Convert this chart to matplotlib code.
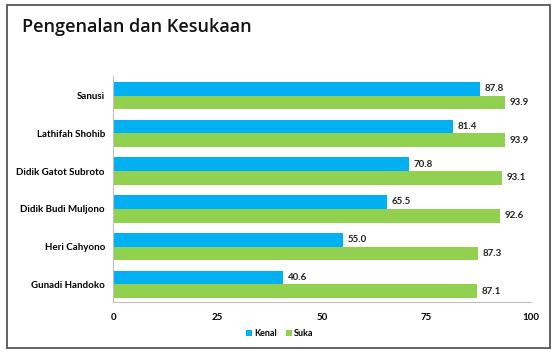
import matplotlib
matplotlib.use("Agg")
import matplotlib.pyplot as plt
from matplotlib.patches import Rectangle
import numpy as np

categories = ["Sanusi", "Lathifah Shohib", "Didik Gatot Subroto", "Didik Budi Muljono", "Heri Cahyono", "Gunadi Handoko"]
kenal = [87.8, 81.4, 70.8, 65.5, 55.0, 40.6]
suka = [93.9, 93.9, 93.1, 92.6, 87.3, 87.1]
xticks = [0, 25, 50, 75, 100]

plt.rcParams['font.family'] = ['Lato', 'DejaVu Sans']

fig = plt.figure(figsize=(5.6, 3.55), dpi=100)
ax = fig.add_axes([113.3/560, 1-302.3/355, (530.5-113.3)/560, (302.3-76)/355])

n = len(categories)
y = np.arange(n)[::-1].astype(float)
h = 0.363
blue = "#00B0F0"
green = "#92D050"
b1 = ax.barh(y + h/2, kenal, height=h, color=blue, label="Kenal")
b2 = ax.barh(y - h/2, suka, height=h, color=green, label="Suka")
for bars, vals in ((b1, kenal), (b2, suka)):
    for bar, v in zip(bars, vals):
        ax.text(v + 1.2, bar.get_y() + bar.get_height()/2, f"{v:.1f}", va="center", ha="left",
                fontsize=7, fontweight="bold", color="#222222")

ax.set_xlim(0, 100)
ax.set_ylim(-0.477, n - 1 + 0.52)
ax.set_xticks(xticks)
ax.set_xticklabels([str(t) for t in xticks], fontsize=7, fontweight="bold")
ax.set_yticks(y)
ax.set_yticklabels(categories, fontsize=7, fontweight="bold")
ax.tick_params(axis='both', length=0, pad=8)
ax.tick_params(axis='y', pad=6)
for s in ("top", "right"):
    ax.spines[s].set_visible(False)
ax.spines["left"].set_color("#bfbfbf")
ax.spines["bottom"].set_color("#bfbfbf")

fig.text(22/560, 1-27/355, "Pengenalan dan Kesukaan", fontsize=13, va="center", ha="left",
         color="#111111", family=['Open Sans', 'DejaVu Sans'], fontweight='semibold')

leg = fig.legend(handles=[b1, b2], labels=["Kenal", "Suka"], loc="center", bbox_to_anchor=(0.5, 1-334/355),
                 ncol=2, frameon=False, handlelength=0.6, handleheight=0.6, columnspacing=1.0,
                 handletextpad=0.3, prop={'weight': 'bold', 'size': 6.5})

fig.patches.append(Rectangle((7/560, 1-348/355), (550-7)/560, (348-5)/355, transform=fig.transFigure,
                             fill=False, edgecolor="#555555", linewidth=1.3))

fig.savefig("out.png", dpi=100)
